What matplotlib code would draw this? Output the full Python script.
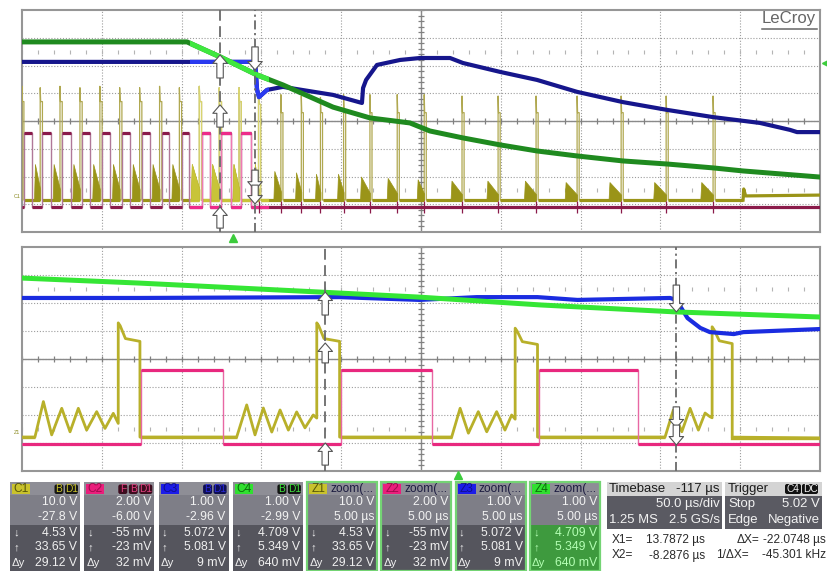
import numpy as np
import matplotlib
matplotlib.use('Agg')
import matplotlib.pyplot as plt
from matplotlib.patches import Rectangle, FancyBboxPatch
from matplotlib import font_manager

# ======================= DATA =======================
# Top display: 50 us/div, 10 div wide (time in us from left edge); levels in divisions (0..8)
ZOOM_START = 105.0      # us, start of zoom window in top display
ZOOM_SPAN = 50.0        # us, zoom traces are 5 us/div
TRIG_T = 132.3          # us, trigger position (top display)

top_green_t = [0.0, 103.4, 124.1, 147.3, 163.5, 194.9, 218.1, 243.1, 255.6, 276.3, 299.5,
               322.7, 347.8, 376.6, 404.2, 433.0, 451.8, 500.0]
top_green_v = [6.85, 6.85, 6.31, 5.66, 5.30, 4.50, 4.11, 3.93, 3.64, 3.39, 3.14,
               2.92, 2.74, 2.56, 2.45, 2.31, 2.20, 1.98]

top_blue_t = [0.0, 146.0, 147.3, 148.5, 153.5, 163.5, 194.9, 213.0, 213.7, 215.6, 222.4, 236.9,
              249.4, 268.2, 276.3, 299.5, 322.7, 347.8, 376.6, 404.2, 433.0, 462.4, 481.2, 485.6, 500.0]
top_blue_v = [6.13, 6.13, 5.12, 4.86, 5.12, 5.23, 4.94, 4.65, 5.19, 5.48, 6.02, 6.20,
              6.27, 6.27, 6.09, 5.77, 5.48, 5.05, 4.68, 4.40, 4.14, 3.93, 3.68, 3.60, 3.60]

top_pink_rise = [1.2, 12.8, 25.2, 37.7, 50.2, 62.6, 75.1, 87.6, 100.0, 112.5, 125.0, 137.4]
top_pink_fall = [6.3, 18.0, 30.4, 42.8, 55.2, 67.6, 80.0, 92.4, 104.6, 117.6, 130.7, 143.6]
TOP_PINK_HIGH, TOP_PINK_LOW = 3.57, 0.90

top_spike_on = [0.0, 11.4, 23.8, 36.3, 48.8, 61.2, 73.7, 86.2, 98.6, 111.1, 123.6, 136.0,
                148.2, 162.2, 175.0, 187.0, 201.5, 218.0, 235.1, 252.0, 275.7, 298.3, 322.1,
                347.8, 375.4, 403.6, 433.0]
top_spike_off = [1.2, 12.8, 25.2, 37.7, 50.2, 62.6, 75.1, 87.6, 100.0, 112.5, 125.0, 137.4,
                 149.5, 163.5, 176.3, 188.3, 202.8, 219.3, 236.4, 253.3, 277.0, 299.6, 323.4,
                 349.1, 376.7, 404.9, 434.3]
top_spike_peak = [5.25, 5.20, 5.25, 5.20, 5.25, 5.20, 5.20, 5.25, 5.20, 5.25, 5.20, 5.20,
                  5.10, 4.95, 4.90, 4.85, 4.95, 4.95, 4.95, 4.95, 4.90, 4.90, 4.90,
                  4.90, 4.90, 4.90, 4.90]
top_spike_plat = [4.70, 4.70, 4.70, 4.70, 4.70, 4.70, 4.70, 4.70, 4.70, 4.70, 4.70, 4.70,
                  4.60, 4.30, 4.30, 4.30, 4.30, 4.30, 4.30, 4.30, 4.30, 4.30, 4.30,
                  4.30, 4.30, 4.30, 4.30]
top_burst_start = [7.5, 19.2, 31.6, 44.0, 56.4, 68.8, 81.2, 93.6, 105.8, 118.5, 131.9, 145.3,
                   157.5, 171.1, 183.6, 197.4, 211.8, 228.5, 247.3, 268.5, 291.0, 314.5, 340.0,
                   367.5, 395.5, 425.0]
top_burst_end = [11.4, 23.8, 36.3, 48.8, 61.2, 73.7, 86.2, 98.6, 111.1, 123.6, 136.0, 148.2,
                 162.2, 175.0, 187.0, 201.5, 218.0, 235.1, 252.0, 275.7, 298.3, 322.1, 347.8,
                 375.4, 403.6, 433.0]
top_burst_peak = [2.45, 2.45, 2.45, 2.45, 2.45, 2.45, 2.45, 2.45, 2.45, 2.45, 2.45, 2.45,
                  2.20, 2.15, 2.10, 2.10, 2.00, 1.95, 1.90, 1.85, 1.85, 1.85, 1.80,
                  1.80, 1.80, 1.80]
TOP_YEL_BASE = 1.15
top_yel_tail_t = [451.8, 452.2, 453.4, 500.0]
top_yel_tail_v = [1.15, 1.55, 1.30, 1.33]

top_cursor_t = [124.1, 146.0]
top_arrow_tip = [[6.38, 4.58, 0.90], [5.84, 1.51, 1.01]]
top_arrow_tail = [[5.55, 3.78, 0.14], [6.67, 2.23, 1.69]]
TOP_TRIG_LEVEL = 6.09

# Bottom display (zoom): 5 us/div, time in us from zoom start
bot_green_t = [0.0, 7.4, 18.7, 24.9, 32.5, 41.0, 50.0]
bot_green_v = [6.89, 6.71, 6.39, 6.21, 5.93, 5.68, 5.50]

bot_blue_t = [0.0, 7.4, 19.9, 24.9, 28.5, 32.3, 34.8, 40.6, 41.0, 41.7, 42.5, 43.1, 44.6, 45.2, 50.0]
bot_blue_v = [6.18, 6.18, 6.21, 6.11, 6.21, 6.21, 6.11, 6.18, 6.11, 5.46, 5.11, 4.96, 4.89, 4.96, 5.07]

bot_pink_rise = [7.46, 20.0, 32.4]
bot_pink_fall = [12.6, 25.7, 38.6]
BOT_PINK_HIGH, BOT_PINK_LOW = 3.61, 0.97

bot_ring_t = [[0.81, 1.34, 1.86, 2.49, 3.01, 3.53, 4.05, 4.68, 5.20, 5.72, 6.03],
              [13.45, 14.08, 14.60, 15.12, 15.65, 16.17, 16.69, 17.21, 17.73, 18.25, 18.47],
              [26.92, 27.45, 27.97, 28.59, 29.12, 29.74, 30.26, 30.68, 30.90],
              [40.29, 40.81, 41.34, 41.86, 42.38, 42.80, 43.10, 43.24]]
bot_ring_v = [[1.21, 2.48, 1.29, 2.24, 1.40, 2.24, 1.46, 2.12, 1.52, 2.06, 1.70],
              [1.21, 2.36, 1.29, 2.25, 1.39, 2.18, 1.46, 2.11, 1.54, 2.00, 1.89],
              [1.21, 2.24, 1.35, 2.12, 1.40, 2.12, 1.46, 2.00, 1.85],
              [1.21, 2.18, 1.40, 2.24, 1.46, 2.07, 1.94, 1.90]]
bot_high_on = [6.03, 18.47, 30.90, 43.24]
bot_high_off = [7.39, 19.90, 32.30, 44.50]
bot_high_peak = [5.29, 5.29, 5.10, 5.15]
bot_high_plat = [4.68, 4.68, 4.57, 4.60]
BOT_YEL_BASE, BOT_YEL_END = 1.21, 1.18

bot_cursor_t = [19.0, 41.0]
bot_arrow_tip = [[6.39, 4.57, 1.00], [5.68, 1.54, 0.93]]
bot_arrow_tail = [[5.57, 3.86, 0.21], [6.64, 2.29, 1.64]]

# Readout panel texts
box_names = ['C1', 'C2', 'C3', 'C4', 'Z1', 'Z2', 'Z3', 'Z4']
box_title = ['', '', '', '', 'zoom(...', 'zoom(...', 'zoom(...', 'zoom(...']
box_badges = [['B', 'D1'], ['F', 'B', 'D1'], ['B', 'D1'], ['B', 'D1'], [], [], [], []]
box_scale = ['10.0 V', '2.00 V', '1.00 V', '1.00 V', '10.0 V', '2.00 V', '1.00 V', '1.00 V']
box_offset = ['-27.8 V', '-6.00 V', '-2.96 V', '-2.99 V', '5.00 µs', '5.00 µs', '5.00 µs', '5.00 µs']
box_low = ['4.53 V', '-55 mV', '5.072 V', '4.709 V', '4.53 V', '-55 mV', '5.072 V', '4.709 V']
box_high = ['33.65 V', '-23 mV', '5.081 V', '5.349 V', '33.65 V', '-23 mV', '5.081 V', '5.349 V']
box_dy = ['29.12 V', '32 mV', '9 mV', '640 mV', '29.12 V', '32 mV', '9 mV', '640 mV']
tb_delay, tb_scale, tb_points, tb_rate = '-117 µs', '50.0 µs/div', '1.25 MS', '2.5 GS/s'
trig_src, trig_cpl, trig_mode, trig_level, trig_edge = 'C4', 'DC', 'Stop', '5.02 V', 'Negative'
cur_x1, cur_x2, cur_dx, cur_inv = '13.7872 µs', '-8.2876 µs', '-22.0748 µs', '-45.301 kHz'

# ======================= STYLE =======================
W, H = 828, 571
names = {f.name for f in font_manager.fontManager.ttflist}
NARROW = 'Liberation Sans Narrow' in names
UI = 'Liberation Sans Narrow' if NARROW else 'Liberation Sans'
KF = 1.0 if NARROW else 0.86
plt.rcParams['font.family'] = [UI, 'DejaVu Sans']

C_TOP = dict(green=('#1f8a1f', '#3fe83f'), blue=('#16168c', '#2a3af0'),
             pink=('#8a1a4a', '#ee2a8a'), pinkv=('#b07898', '#f07ab4'),
             yel=('#9a9418', '#c8c438'), yelv=('#b0a850', '#d8d470'))
C_BOT = dict(green='#35e635', blue='#1a2ce0', pink='#e8287e', pinkv='#e868a4',
             yel='#b8b02a')

fig = plt.figure(figsize=(W / 100, H / 100), dpi=100)
fig.patch.set_facecolor('white')


def px_axes(x0, y0, x1, y1, **kw):
    return fig.add_axes([x0 / W, 1 - y1 / H, (x1 - x0) / W, (y1 - y0) / H], **kw)


ax_top = px_axes(22, 10, 820, 232)
ax_bot = px_axes(22, 247, 820, 471)
ov = px_axes(0, 0, W, H, zorder=10)
ov.set_xlim(0, W)
ov.set_ylim(H, 0)
ov.axis('off')
ov.patch.set_alpha(0)


def scope_grid(ax, xmax):
    ax.set_xlim(0, xmax)
    ax.set_ylim(0, 8)
    ax.set_xticks([])
    ax.set_yticks([])
    ax.set_facecolor('white')
    for s in ax.spines.values():
        s.set_color('#969696')
        s.set_linewidth(1.5)
    dx = xmax / 10.0
    for i in range(1, 10):
        ax.axvline(i * dx, color='#9c9c9c', lw=0.8, ls=(0, (1, 1.6)), zorder=1)
    for j in range(1, 8):
        ax.axhline(j, color='#9c9c9c', lw=0.8, ls=(0, (1, 1.6)), zorder=1)
    ax.axhline(4, color='#8a8a8a', lw=1.0, zorder=1.1)
    ax.axvline(5 * dx, color='#8a8a8a', lw=1.0, zorder=1.1)
    tk = np.arange(0, xmax + 1e-6, dx / 5)
    ax.plot(tk, np.full(len(tk), 4.0), ls='none', marker='|', ms=5, mew=0.9,
            color='#808080', zorder=1.2)
    for yy in (1.5, 6.5):
        ax.plot(tk, np.full(len(tk), yy), ls='none', marker='|', ms=2.2, mew=0.8,
                color='#b4b4b4', zorder=1.2)
    vt = np.arange(0, 8.001, 0.2)
    ax.plot(np.full(len(vt), 5 * dx), vt, ls='none', marker='_', ms=5, mew=0.9,
            color='#808080', zorder=1.2)


scope_grid(ax_top, 500.0)
scope_grid(ax_bot, 50.0)


def zoom_clip(ax, artist):
    r = Rectangle((ZOOM_START, -10), ZOOM_SPAN, 30, transform=ax.transData)
    artist.set_clip_path(r)


def dual_plot(ax, t, v, cols, lw, z):
    ax.plot(t, v, color=cols[0], lw=lw, zorder=z, solid_joinstyle='round')
    ln, = ax.plot(t, v, color=cols[1], lw=lw, zorder=z + 0.05, solid_joinstyle='round')
    zoom_clip(ax, ln)


def hl(ax, y, x0, x1, **kw):
    return ax.hlines(np.full(len(x0), y), x0, x1, **kw)


def dual_hlines(ax, y, x0, x1, cols, lw, z):
    hl(ax, y, x0, x1, color=cols[0], lw=lw, zorder=z)
    lc = hl(ax, y, x0, x1, color=cols[1], lw=lw, zorder=z + 0.05)
    zoom_clip(ax, lc)


def step_wave(rise, fall, low, high, t_end):
    t, v = [0.0], [low]
    for r, f in zip(rise, fall):
        t += [r, r, f, f]
        v += [low, high, high, low]
    t.append(t_end)
    v.append(low)
    return t, v


# ---------------- TOP PANEL ----------------
# yellow (C1)
yt, yv = [0.0], [TOP_YEL_BASE]
for on, off, pk, pl in zip(top_spike_on, top_spike_off, top_spike_peak, top_spike_plat):
    yt += [on, on, on + 0.3, off, off]
    yv += [TOP_YEL_BASE, pk, pl, pl, TOP_YEL_BASE]
yt += top_yel_tail_t
yv += top_yel_tail_v
dual_plot(ax_top, yt, yv, C_TOP['yelv'], 0.9, 3)
dual_hlines(ax_top, TOP_YEL_BASE, top_spike_off, top_spike_on[1:] + [top_yel_tail_t[0]],
            C_TOP['yel'], 2.3, 3.1)
ax_top.plot(top_yel_tail_t, top_yel_tail_v, color=C_TOP['yel'][0], lw=2.3, zorder=3.1)
for s, e, p in zip(top_burst_start, top_burst_end, top_burst_peak):
    xs = [s, s + 0.6, e]
    up = [TOP_YEL_BASE, p, TOP_YEL_BASE + 0.3 * (p - TOP_YEL_BASE)]
    ax_top.fill_between(xs, [TOP_YEL_BASE] * 3, up, color=C_TOP['yel'][0], lw=0.5, zorder=3.2)
    pc = ax_top.fill_between(xs, [TOP_YEL_BASE] * 3, up, color=C_TOP['yel'][1], lw=0.5, zorder=3.25)
    zoom_clip(ax_top, pc)

# pink (C2)
pt, pv = step_wave(top_pink_rise, top_pink_fall, TOP_PINK_LOW, TOP_PINK_HIGH, 500.0)
dual_plot(ax_top, pt, pv, C_TOP['pinkv'], 1.0, 4)
dual_hlines(ax_top, TOP_PINK_HIGH, top_pink_rise, top_pink_fall, C_TOP['pink'], 2.3, 4.1)
dual_hlines(ax_top, TOP_PINK_LOW, [0.0] + top_pink_fall, top_pink_rise + [500.0],
            C_TOP['pink'], 2.3, 4.1)
ax_top.vlines(top_spike_on[12:], TOP_PINK_LOW - 0.2, TOP_PINK_LOW + 0.2,
              color=C_TOP['pink'][0], lw=0.9, zorder=4.2)

# blue (C3) and green (C4)
dual_plot(ax_top, top_blue_t, top_blue_v, C_TOP['blue'], 3.0, 5)
dual_plot(ax_top, top_green_t, top_green_v, C_TOP['green'], 3.6, 6)


def draw_cursors(ax, cts, tips, tails):
    styles = [(0, (6, 3)), (0, (5, 2, 1.2, 2))]
    for ct, st, tp, tl in zip(cts, styles, tips, tails):
        ax.axvline(ct, color='#6a6a6a', lw=1.3, ls=st, zorder=7)
        for a, b in zip(tp, tl):
            ax.annotate('', xy=(ct, a), xytext=(ct, b), zorder=8,
                        arrowprops=dict(arrowstyle='simple,head_length=0.55,head_width=0.95,tail_width=0.42',
                                        fc='white', ec='#555555', lw=0.8,
                                        shrinkA=0, shrinkB=0, mutation_scale=11))


draw_cursors(ax_top, top_cursor_t, top_arrow_tip, top_arrow_tail)
ax_top.plot([TRIG_T], [-0.22], marker='^', color='#3ccc3c', ms=6, clip_on=False, zorder=9)
ax_top.plot([503.5], [TOP_TRIG_LEVEL], marker='<', color='#3ccc3c', ms=6, clip_on=False, zorder=9)

# ---------------- BOTTOM PANEL ----------------
bt, bv = [0.0], [BOT_YEL_BASE]
for rt, rv, on, off, pk, pl in zip(bot_ring_t, bot_ring_v, bot_high_on, bot_high_off,
                                   bot_high_peak, bot_high_plat):
    bt += rt
    bv += rv
    bt += [on, on + 0.12, on + 0.45, off, off]
    bv += [pk, pk - 0.1, pl + 0.05, pl - 0.05, BOT_YEL_BASE]
bt.append(50.0)
bv.append(BOT_YEL_END)
ax_bot.plot(bt, bv, color=C_BOT['yel'], lw=2.0, zorder=3, solid_joinstyle='round')
hl(ax_bot, BOT_YEL_BASE, [0.0] + bot_high_off[:3], [r[0] for r in bot_ring_t],
   color=C_BOT['yel'], lw=2.4, zorder=3.1)
ax_bot.plot([bot_high_off[3], 50.0], [BOT_YEL_END, BOT_YEL_END], color=C_BOT['yel'],
            lw=2.4, zorder=3.1)

qt, qv = step_wave(bot_pink_rise, bot_pink_fall, BOT_PINK_LOW, BOT_PINK_HIGH, 50.0)
ax_bot.plot(qt, qv, color=C_BOT['pinkv'], lw=1.0, zorder=4)
hl(ax_bot, BOT_PINK_HIGH, bot_pink_rise, bot_pink_fall, color=C_BOT['pink'], lw=2.3, zorder=4.1)
hl(ax_bot, BOT_PINK_LOW, [0.0] + bot_pink_fall, bot_pink_rise + [50.0],
   color=C_BOT['pink'], lw=2.3, zorder=4.1)

ax_bot.plot(bot_blue_t, bot_blue_v, color=C_BOT['blue'], lw=3.0, zorder=5, solid_joinstyle='round')
ax_bot.plot(bot_green_t, bot_green_v, color=C_BOT['green'], lw=3.6, zorder=6, solid_joinstyle='round')

draw_cursors(ax_bot, bot_cursor_t, bot_arrow_tip, bot_arrow_tail)
ax_bot.plot([TRIG_T - ZOOM_START], [-0.16], marker='^', color='#3ccc3c', ms=6, clip_on=False, zorder=9)


# ---------------- OVERLAY TEXTS / READOUT ----------------
def T(x, y, s, size=9.5, color='#f2f2f2', ha='left'):
    ov.text(x, y, s, fontsize=size * KF, color=color, ha=ha, va='center', family=[UI, 'DejaVu Sans'])


T(816, 19, 'LeCroy', 14, '#666666', ha='right')
ov.plot([762, 817], [28.5, 28.5], color='#666666', lw=1.1)
T(14, 196, 'C1', 4.5, '#8a8a20')
T(14, 432, 'Z1', 4.5, '#8a8a20')

chan_bg = ['#c9c22c', '#ea1e7c', '#1c1ce8', '#30e030']
chan_fg = ['#55550a', '#9c0c4c', '#10108c', '#0c6c0c']
badge_bg = ['#161616', '#3c0c1e', '#0e0e52', '#121212']
badge_fg = ['#c8c02c', '#e04080', '#2a2ad8', '#3ee03e']

box_w = 70
for i, name in enumerate(box_names):
    x0 = 10 + 74.3 * i
    c = i % 4
    zb = name.startswith('Z')
    ov.add_patch(Rectangle((x0, 482), box_w, 13, fc='#8e8e96', ec='none'))
    ov.add_patch(Rectangle((x0, 495), box_w, 30, fc='#7e7e87', ec='none'))
    ov.add_patch(Rectangle((x0, 525), box_w, 46, fc='#3e9a3e' if name == 'Z4' else '#55555d', ec='none'))
    if zb:
        ov.add_patch(Rectangle((x0, 482), box_w, 89, fill=False, ec='#74d474', lw=1.6))
    ov.add_patch(Rectangle((x0 + 2, 484), 18, 10, fc=chan_bg[c], ec='none'))
    T(x0 + 11, 489.3, name, 10, chan_fg[c], ha='center')
    if zb:
        T(x0 + 23, 489, box_title[i], 10, '#1c1c40')
    bx = x0 + box_w - 2
    for b in reversed(box_badges[i]):
        bw = 13 if len(b) > 1 else 9
        bx -= bw
        ov.add_patch(FancyBboxPatch((bx, 484.5), bw, 9.5, boxstyle='round,pad=0,rounding_size=2',
                                    fc=badge_bg[c], ec='none'))
        T(bx + bw / 2, 489.5, b, 8.5, badge_fg[c], ha='center')
        bx -= 1.5
    tc_low = '#b4ffb4' if name == 'Z4' else '#f0f0f0'
    xr = x0 + box_w - 3
    T(xr, 502, box_scale[i], 10.3, ha='right')
    T(xr, 517, box_offset[i], 10.3, ha='right')
    T(xr, 532.5, box_low[i], 10.3, tc_low, ha='right')
    T(xr, 547.5, box_high[i], 10.3, tc_low, ha='right')
    T(xr, 562.5, box_dy[i], 10.3, tc_low, ha='right')
    T(x0 + 3, 532.5, '↓', 9.5, tc_low)
    T(x0 + 3, 547.5, '↑', 9.5, tc_low)
    T(x0 + 2, 562.5, 'Δy', 9.5, tc_low)

# timebase box
ov.add_patch(Rectangle((607, 482), 115, 14, fc='#d4d4d4', ec='none'))
ov.add_patch(Rectangle((607, 496), 115, 33, fc='#5a5a62', ec='none'))
T(609, 489, 'Timebase', 11, '#1c1c1c')
T(720, 489, tb_delay, 11, '#1c1c1c', ha='right')
T(720, 504, tb_scale, 11, ha='right')
T(609, 520, tb_points, 11)
T(720, 520, tb_rate, 11, ha='right')

# trigger box
ov.add_patch(Rectangle((725, 482), 97, 14, fc='#d4d4d4', ec='none'))
ov.add_patch(Rectangle((725, 496), 97, 33, fc='#5a5a62', ec='none'))
T(728, 489, 'Trigger', 11, '#1c1c1c')
for bx, lab in ((785, trig_src), (802, trig_cpl)):
    ov.add_patch(FancyBboxPatch((bx, 484), 16, 10, boxstyle='round,pad=0,rounding_size=2',
                                fc='#121212', ec='none'))
    T(bx + 8, 489, lab, 8.5, '#f0f0f0', ha='center')
T(728, 504, trig_mode, 11)
T(820, 504, trig_level, 11, ha='right')
T(728, 520, 'Edge', 11)
T(820, 520, trig_edge, 11, ha='right')

# cursor readouts
RS = 10.0
T(612, 540, 'X1=', RS, '#2a2a2a')
T(705, 540, cur_x1, RS, '#2a2a2a', ha='right')
T(612, 555.5, 'X2=', RS, '#2a2a2a')
T(705, 555.5, cur_x2, RS, '#2a2a2a', ha='right')
T(737, 540, 'ΔX=', RS, '#2a2a2a')
T(826, 540, cur_dx, RS, '#2a2a2a', ha='right')
T(716, 555.5, '1/ΔX=', RS, '#2a2a2a')
T(826, 555.5, cur_inv, RS, '#2a2a2a', ha='right')

fig.savefig('out.png', dpi=100)
